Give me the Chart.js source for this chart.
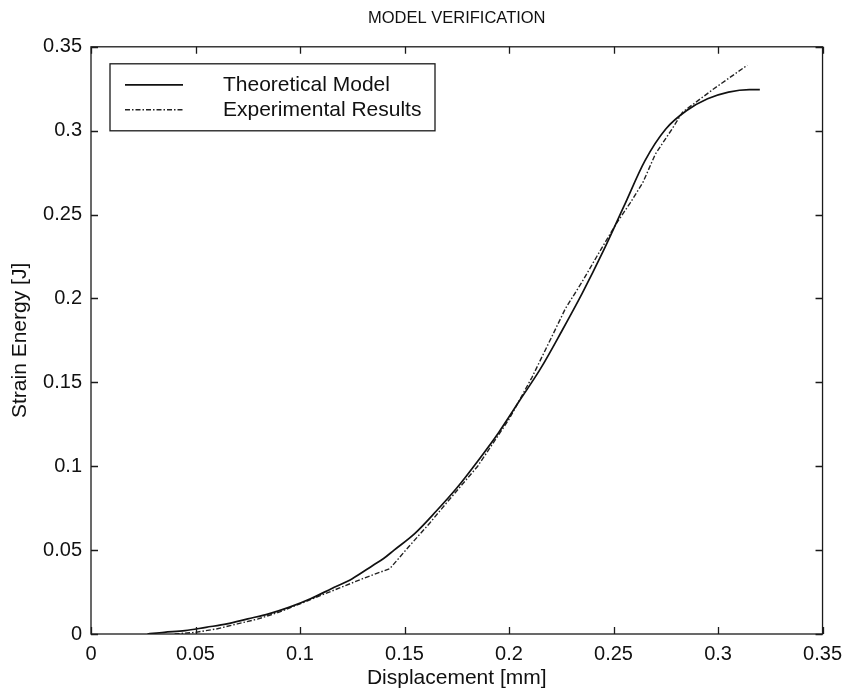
<!DOCTYPE html>
<html>
<head>
<meta charset="utf-8">
<script src="https://cdn.jsdelivr.net/npm/chart.js@4/dist/chart.umd.min.js"></script>
<style>
  html, body { margin: 0; padding: 0; background: #fff; }
  #wrap { width: 850px; height: 695px; }
</style>
</head>
<body>
<div id="wrap"><canvas id="c" width="850" height="695"></canvas></div>
<script>
// Axis ticks
const xTickValues = [0, 0.05, 0.1, 0.15, 0.2, 0.25, 0.3, 0.35];
const xTickLabels = ['0', '0.05', '0.1', '0.15', '0.2', '0.25', '0.3', '0.35'];
const yTickValues = [0, 0.05, 0.1, 0.15, 0.2, 0.25, 0.3, 0.35];
const yTickLabels = ['0', '0.05', '0.1', '0.15', '0.2', '0.25', '0.3', '0.35'];

// Theoretical model: displacement [mm] vs strain energy [J]
const theoryX = [0.027, 0.035, 0.045, 0.055, 0.065, 0.075, 0.085, 0.095, 0.105, 0.115,
                 0.125, 0.135, 0.140, 0.145, 0.155, 0.165, 0.175, 0.185, 0.195, 0.205,
                 0.215, 0.225, 0.235, 0.245, 0.255, 0.265, 0.275, 0.285, 0.295, 0.305,
                 0.315, 0.320];
const theoryY = [0.000, 0.001, 0.002, 0.004, 0.006, 0.009, 0.012, 0.016, 0.021, 0.027,
                 0.033, 0.041, 0.045, 0.050, 0.060, 0.073, 0.087, 0.103, 0.120, 0.139,
                 0.158, 0.180, 0.203, 0.228, 0.255, 0.282, 0.301, 0.312, 0.319, 0.323,
                 0.3245, 0.3245];

// Experimental results
const expX = [0.040, 0.050, 0.060, 0.070, 0.080, 0.090, 0.100, 0.108, 0.120, 0.130,
              0.143, 0.152, 0.162, 0.170, 0.185, 0.200, 0.211, 0.220, 0.227, 0.235,
              0.242, 0.251, 0.258, 0.264, 0.270, 0.278, 0.283, 0.298, 0.314];
const expY = [0.000, 0.001, 0.003, 0.006, 0.009, 0.013, 0.018, 0.022, 0.028, 0.033,
              0.039, 0.052, 0.066, 0.078, 0.100, 0.128, 0.153, 0.176, 0.194, 0.210,
              0.225, 0.244, 0.257, 0.269, 0.286, 0.301, 0.311, 0.325, 0.339];

const FONT = '"Liberation Sans", Arial, Helvetica, sans-serif';

const toPoints = (xs, ys) => xs.map((x, i) => ({ x: x, y: ys[i] }));

// Center the title over the plot area rather than the whole canvas
const titleOverPlotPlugin = {
  id: 'titleOverPlot',
  afterLayout(chart) {
    if (chart.titleBlock) {
      chart.titleBlock.left = chart.chartArea.left;
      chart.titleBlock.right = chart.chartArea.right;
      chart.titleBlock.width = chart.chartArea.right - chart.chartArea.left;
    }
  }
};

// Frame with inward tick marks on all four sides
const framePlugin = {
  id: 'frame',
  afterDatasetsDraw(chart) {
    const { ctx, chartArea: a, scales } = chart;
    const len = 7;
    ctx.save();
    ctx.strokeStyle = '#1a1a1a';
    ctx.lineWidth = 1.3;
    ctx.strokeRect(a.left, a.top, a.right - a.left, a.bottom - a.top);
    ctx.beginPath();
    scales.x.ticks.forEach(t => {
      const px = Math.round(scales.x.getPixelForValue(t.value)) + 0.5;
      ctx.moveTo(px, a.bottom); ctx.lineTo(px, a.bottom - len);
      ctx.moveTo(px, a.top); ctx.lineTo(px, a.top + len);
    });
    scales.y.ticks.forEach(t => {
      const py = Math.round(scales.y.getPixelForValue(t.value)) + 0.5;
      ctx.moveTo(a.left, py); ctx.lineTo(a.left + len, py);
      ctx.moveTo(a.right, py); ctx.lineTo(a.right - len, py);
    });
    ctx.stroke();
    ctx.restore();
  }
};

// Boxed legend in the upper-left corner of the plot
const boxLegendPlugin = {
  id: 'boxLegend',
  afterDraw(chart) {
    const { ctx, chartArea: a } = chart;
    const x0 = a.left + 19, y0 = a.top + 17, w = 325, h = 67;
    ctx.save();
    ctx.fillStyle = '#fff';
    ctx.fillRect(x0, y0, w, h);
    ctx.strokeStyle = '#1a1a1a';
    ctx.lineWidth = 1.3;
    ctx.strokeRect(x0, y0, w, h);
    chart.data.datasets.forEach((ds, i) => {
      const y = y0 + 21 + i * 25;
      ctx.beginPath();
      ctx.strokeStyle = ds.borderColor;
      ctx.lineWidth = ds.borderWidth;
      ctx.setLineDash(ds.borderDash || []);
      ctx.moveTo(x0 + 15, y);
      ctx.lineTo(x0 + 73, y);
      ctx.stroke();
      ctx.setLineDash([]);
      ctx.fillStyle = '#111';
      ctx.font = '21px ' + FONT;
      ctx.textBaseline = 'middle';
      ctx.textAlign = 'left';
      ctx.fillText(ds.label, x0 + 113, y);
    });
    ctx.restore();
  }
};

new Chart(document.getElementById('c'), {
  type: 'line',
  data: {
    datasets: [
      {
        label: 'Theoretical Model',
        data: toPoints(theoryX, theoryY),
        borderColor: '#111',
        borderWidth: 1.7,
        pointRadius: 0,
        cubicInterpolationMode: 'monotone',
        fill: false
      },
      {
        label: 'Experimental Results',
        data: toPoints(expX, expY),
        borderColor: '#222',
        borderWidth: 1.4,
        borderDash: [5, 2, 1.5, 2],
        pointRadius: 0,
        tension: 0,
        fill: false
      }
    ]
  },
  options: {
    responsive: false,
    animation: false,
    layout: { padding: { left: 0, right: 26, top: 0, bottom: 0 } },
    plugins: {
      legend: { display: false },
      tooltip: { enabled: false },
      title: {
        display: true,
        text: 'MODEL VERIFICATION',
        color: '#111',
        font: { family: FONT, size: 16.5, weight: 'normal' },
        padding: { top: 9, bottom: 18 }
      }
    },
    scales: {
      x: {
        type: 'linear',
        min: 0,
        max: 0.35,
        afterBuildTicks: s => { s.ticks = xTickValues.map(v => ({ value: v })); },
        afterFit: s => { s.height = 61; },
        grid: { display: false, drawTicks: false },
        border: { display: false },
        ticks: {
          color: '#111',
          padding: 8,
          maxRotation: 0,
          font: { family: FONT, size: 20 },
          callback: (v, i) => xTickLabels[i]
        },
        title: {
          display: true,
          text: 'Displacement [mm]',
          color: '#111',
          font: { family: FONT, size: 21 },
          padding: { top: 0, bottom: 4 }
        }
      },
      y: {
        type: 'linear',
        min: 0,
        max: 0.35,
        afterBuildTicks: s => { s.ticks = yTickValues.map(v => ({ value: v })); },
        afterFit: s => { s.width = 91; },
        grid: { display: false, drawTicks: false },
        border: { display: false },
        ticks: {
          color: '#111',
          padding: 9,
          font: { family: FONT, size: 20 },
          callback: (v, i) => yTickLabels[i]
        },
        title: {
          display: true,
          text: 'Strain Energy [J]',
          color: '#111',
          font: { family: FONT, size: 21 },
          padding: { top: 8, bottom: 0 }
        }
      }
    }
  },
  plugins: [titleOverPlotPlugin, framePlugin, boxLegendPlugin]
});
</script>
</body>
</html>
